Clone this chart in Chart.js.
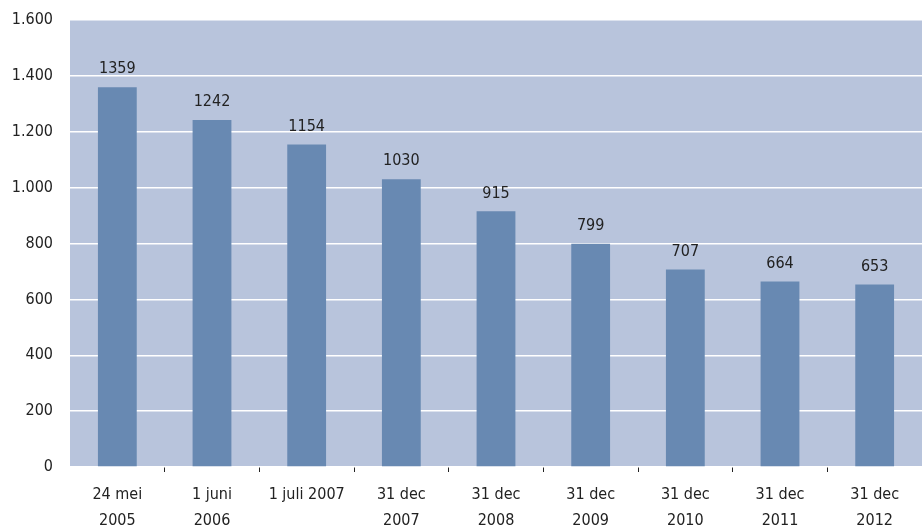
<!DOCTYPE html>
<html>
<head>
<meta charset="utf-8">
<script src="https://cdn.jsdelivr.net/npm/chart.js@4/dist/chart.umd.min.js"></script>
<style>
  html, body { margin: 0; padding: 0; background: #fff; }
  #wrap { width: 922px; height: 529px; }
</style>
</head>
<body>
<div id="wrap"><canvas id="bolChart"></canvas></div>
<script>
// categories (two-line labels) and values
const categories = [
  ["24 mei", "2005"],
  ["1 juni", "2006"],
  ["1 juli 2007"],
  ["31 dec", "2007"],
  ["31 dec", "2008"],
  ["31 dec", "2009"],
  ["31 dec", "2010"],
  ["31 dec", "2011"],
  ["31 dec", "2012"]
];
const values = [1359, 1242, 1154, 1030, 915, 799, 707, 664, 653];
const yTicks = [0, 200, 400, 600, 800, 1000, 1200, 1400, 1600];

const fontFamily = "'DejaVu Sans Condensed', 'DejaVu Sans', sans-serif";
const textColor = "#222";

// fill the plot area with the light blue background
const plotBackground = {
  id: "plotBackground",
  beforeDraw(chart) {
    const { ctx, chartArea } = chart;
    ctx.save();
    ctx.fillStyle = "#b8c4dc";
    ctx.fillRect(chartArea.left, chartArea.top, chartArea.right - chartArea.left, chartArea.bottom - chartArea.top);
    ctx.restore();
  }
};

// value labels above each bar
const barValues = {
  id: "barValues",
  afterDatasetsDraw(chart) {
    const ctx = chart.ctx;
    const meta = chart.getDatasetMeta(0);
    ctx.save();
    ctx.font = "16px " + fontFamily;
    ctx.fillStyle = textColor;
    ctx.textAlign = "center";
    ctx.textBaseline = "bottom";
    meta.data.forEach((bar, i) => {
      ctx.fillText(String(values[i]), bar.x, bar.y - 10);
    });
    ctx.restore();
  }
};

const ctx = document.getElementById("bolChart").getContext("2d");
new Chart(ctx, {
  type: "bar",
  data: {
    labels: categories,
    datasets: [{
      data: values,
      backgroundColor: "#6889b2",
      categoryPercentage: 1.0,
      barPercentage: 0.41
    }]
  },
  options: {
    responsive: true,
    maintainAspectRatio: false,
    animation: false,
    layout: { padding: 0 },
    plugins: {
      legend: { display: false },
      tooltip: { enabled: false }
    },
    scales: {
      x: {
        offset: true,
        border: { display: false },
        grid: {
          offset: true,
          drawOnChartArea: false,
          tickLength: 5,
          color: (c) => (c.index === 0 ? "transparent" : "#222")
        },
        ticks: {
          color: textColor,
          font: { family: fontFamily, size: 16, lineHeight: 1.6 },
          padding: 10,
          maxRotation: 0,
          autoSkip: false
        },
        afterFit(scale) { scale.height = 62; }
      },
      y: {
        min: 0,
        max: 1600,
        border: { display: false },
        grid: { color: "#ffffff", lineWidth: 1.5, drawTicks: false },
        afterBuildTicks(scale) { scale.ticks = yTicks.map(v => ({ value: v })); },
        ticks: {
          color: textColor,
          font: { family: fontFamily, size: 16 },
          padding: 17,
          callback: (v) => v.toString().replace(/\B(?=(\d{3})+(?!\d))/g, ".")
        },
        afterFit(scale) {
          scale.width = 70;
          scale.paddingTop = 20;
          scale.paddingBottom = 0;
        }
      }
    }
  },
  plugins: [plotBackground, barValues]
});
</script>
</body>
</html>
